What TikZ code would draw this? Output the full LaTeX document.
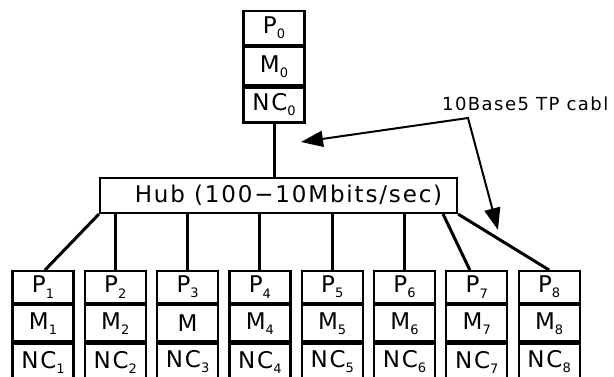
\documentclass[tikz,border=0pt]{standalone}
\usepackage{fontspec}
\usetikzlibrary{arrows.meta}
\newfontfamily\wideface{DejaVu Sans}[LetterSpace=8]
\newcommand{\lowidx}[1]{\raisebox{-0.4ex}{\fontsize{13}{13}\selectfont #1}}

\begin{document}
\begin{tikzpicture}[x=1pt,y=-1pt,
    cell/.style={draw,line width=2.2pt,minimum width=61pt,inner sep=0pt,
      font=\wideface\fontsize{23}{23}\selectfont},
    link/.style={line width=3pt},
    cable/.style={line width=2pt,
      {Triangle[length=22pt,width=16pt]}-{Triangle[length=22pt,width=16pt]}}]
  \useasboundingbox (0,0) rectangle (614,376);
  % server on top
  \node[cell,minimum height=34pt,anchor=north] (p0) at (274,10) {P\lowidx{0}};
  \node[cell,minimum height=38pt,anchor=north] (m0) at (p0.south) {M\lowidx{0}};
  \node[cell,minimum height=35pt,anchor=north] (nc0) at (m0.south) {NC\lowidx{0}};
  % hub
  \node[draw,line width=2.2pt,minimum width=357pt,minimum height=35pt,inner sep=0pt,
    font=\wideface\fontsize{23}{23}\selectfont] (hub) at (278.5,195.5)
    {\hspace{20pt}Hub (100−10Mbits/sec)};
  % clients
  \foreach \i in {1,...,8}{
    \node[cell,minimum height=32pt,anchor=north] (p\i) at ({43+72.3*(\i-1)},270) {P\lowidx{\i}};
    \node[cell,minimum height=36pt,anchor=north] (m\i) at (p\i.south)
      {\ifnum\i=3 M\else M\lowidx{\i}\fi};
    \node[cell,minimum height=37pt,anchor=north] (nc\i) at (m\i.south) {NC\lowidx{\i}};
  }
  % links
  \draw[link] (nc0.south) -- (nc0.south |- hub.north);
  \draw[link] (hub.south west) -- ([xshift=2pt]p1.north);
  \foreach \i in {2,...,6}
    \draw[link] (p\i.north) -- (p\i.north |- hub.south);
  \draw[link] ([xshift=-15pt]hub.south east) -- ([xshift=-7pt]p7.north);
  \draw[link] (hub.south east) -- (p8.north);
  % cable label
  \coordinate (bend) at (468,118);
  \coordinate (tipa) at (301,142);
  \coordinate (tipb) at (498,230);
  \draw[cable] (tipa) -- (bend) -- (tipb);
  \node[anchor=base west,inner sep=0pt,font=\wideface\fontsize{18}{18}\selectfont]
    (cablelbl) at (442,110) {10Base5 TP cabl};
\end{tikzpicture}
\end{document}
